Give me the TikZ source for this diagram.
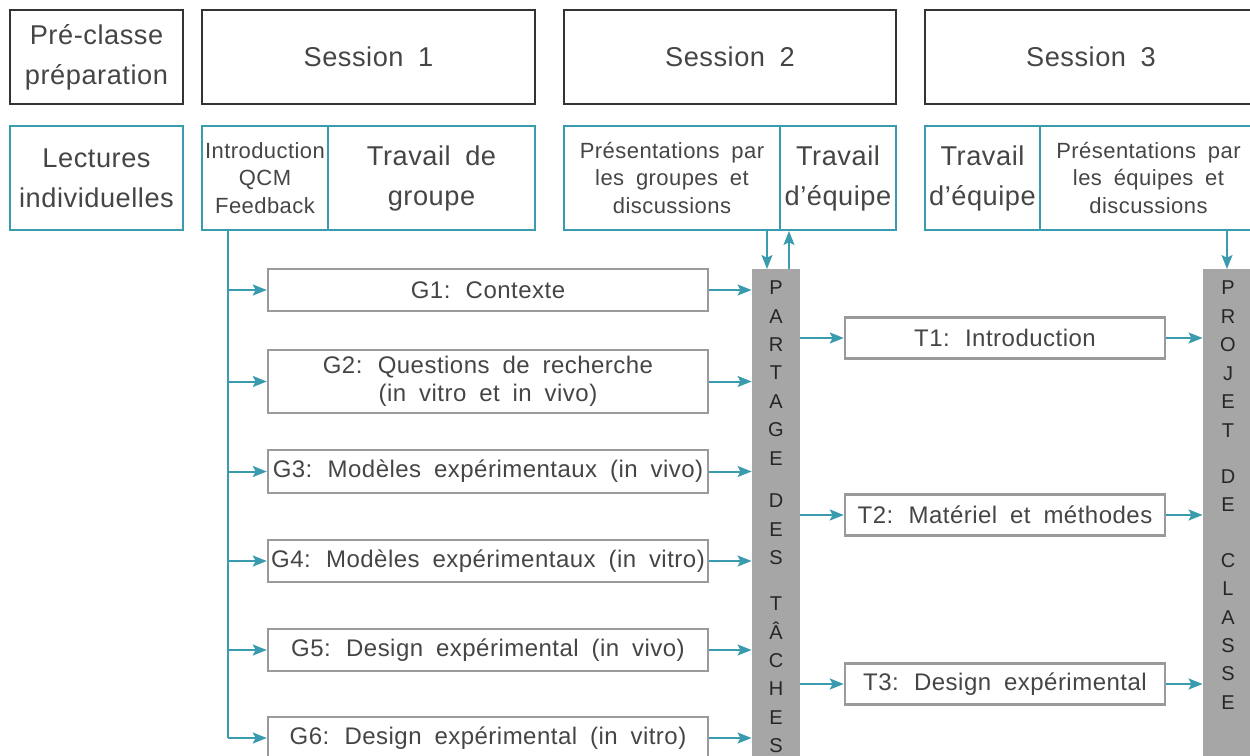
\documentclass[tikz,border=0pt]{standalone}
\usepackage{fontspec}
\setmainfont{Liberation Sans}[WordSpace=1.8,LetterSpace=2]
\newfontfamily\barfont{Liberation Sans}
\usetikzlibrary{arrows.meta}
\definecolor{lineteal}{HTML}{3A9BAF}
\definecolor{topgray}{HTML}{333333}
\definecolor{boxgray}{HTML}{9A9A9A}
\definecolor{bargray}{HTML}{A6A6A6}
\definecolor{txtgray}{HTML}{454545}
\newcommand\fbig{\fontsize{13.6}{20}\selectfont}
\newcommand\fmid{\fontsize{12}{14}\selectfont}
\newcommand\fsmall{\fontsize{11}{13.7}\selectfont}
\newcommand\fbar{\barfont\fontsize{10}{11}\selectfont}
\begin{document}
\begin{tikzpicture}[x=0.5pt,y=-0.5pt,
  topbox/.style={draw=topgray,line width=1.2pt,rectangle,inner sep=0pt,align=center,font=\fbig,text=txtgray},
  tealbox/.style={draw=lineteal,line width=1pt,rectangle,inner sep=0pt,align=center,font=\fbig,text=txtgray,minimum height=52pt},
  gbox/.style={draw=boxgray,line width=1.2pt,rectangle,inner sep=0pt,align=center,font=\fmid,text=txtgray},
  bar/.style={fill=bargray,draw=none,rectangle,inner sep=0pt},
  barletter/.style={font=\fbar,text=black!85,inner sep=0pt,text height=7.2pt,text depth=0pt},
  conn/.style={draw=lineteal,line width=1pt},
  arr/.style={conn,-{Stealth[length=7pt,width=5.5pt,inset=1.4pt]}}]
\useasboundingbox (0,0) rectangle (1250,756);
\clip (0,0) rectangle (1250,756);

% top row
\node[topbox,minimum width=86.5pt,minimum height=47pt] (pre) at (96.5,57) {Pré-classe\\préparation};
\node[topbox,minimum width=166.5pt,minimum height=47pt] (s1) at (368.5,57) {Session 1};
\node[topbox,minimum width=166pt,minimum height=47pt] (s2) at (730,57) {Session 2};
\node[topbox,minimum width=166pt,minimum height=47pt] (s3) at (1091,57) {Session 3};

% second row
\node[tealbox,minimum width=86.5pt] (lect) at (96.5,178) {Lectures\\individuelles};
\node[tealbox,minimum width=63pt,font=\fsmall] (intro) at (265,178) {Introduction\\QCM\\Feedback};
\node[tealbox,minimum width=103.5pt] (tdg) at (431.5,178) {Travail de\\groupe};
\node[tealbox,minimum width=108pt,font=\fsmall] (pres2) at (672,178) {Présentations par\\les groupes et\\discussions};
\node[tealbox,minimum width=58pt] (te2) at (838,178) {Travail\\d’équipe};
\node[tealbox,minimum width=57.5pt] (te3) at (982.5,178) {Travail\\d’équipe};
\node[tealbox,minimum width=108.5pt,font=\fsmall] (pres3) at (1148.5,178) {Présentations par\\les équipes et\\discussions};

% group boxes
\node[gbox,minimum width=220pt,minimum height=21pt] (g1) at (488,290) {G1: Contexte};
\node[gbox,minimum width=220pt,minimum height=31.5pt] (g2) at (488,381.5) {G2: Questions de recherche\\(in vitro et in vivo)};
\node[gbox,minimum width=220pt,minimum height=21.5pt] (g3) at (488,471.5) {G3: Modèles expérimentaux (in vivo)};
\node[gbox,minimum width=220pt,minimum height=21pt] (g4) at (488,561) {G4: Modèles expérimentaux (in vitro)};
\node[gbox,minimum width=220pt,minimum height=21pt] (g5) at (488,650) {G5: Design expérimental (in vivo)};
\node[gbox,minimum width=220pt,minimum height=21pt] (g6) at (488,738) {G6: Design expérimental (in vitro)};

% team boxes
\node[gbox,minimum width=160pt,minimum height=20.5pt] (t1) at (1005,338) {T1: Introduction};
\node[gbox,minimum width=160pt,minimum height=20.5pt] (t2) at (1005,515) {T2: Matériel et méthodes};
\node[gbox,minimum width=160pt,minimum height=20.5pt] (t3) at (1005,684) {T3: Design expérimental};

% bars
\node[bar,minimum width=24pt,minimum height=260pt,anchor=north] (lbar) at (776,269) {};
\node[bar,minimum width=24pt,minimum height=260pt,anchor=north] (rbar) at (1227,269) {};
\foreach \l/\y [count=\i] in {P/287,A/316,R/344,T/372,A/401,G/429,E/458,D/500,E/529,S/557,T/603,Â/632,C/660,H/688,E/717,S/745}
  \node[barletter] (pl\i) at (776,\y) {\l};
\foreach \l/\y [count=\i] in {P/287,R/316,O/344,J/373,E/401,T/430,D/476,E/504,C/560,L/588,A/617,S/645,S/673,E/702}
  \node[barletter] (pr\i) at (1228,\y) {\l};

% connectors
\coordinate (trunk) at ([xshift=13.5pt]intro.south west);
\draw[conn] (trunk) -- (trunk |- g6.west);
\foreach \g in {g1,g2,g3,g4,g5,g6} {
  \draw[arr] (trunk |- \g.west) -- (\g.west);
  \draw[arr] (\g.east) -- (\g.east -| lbar.west);
}
\coordinate (dn) at ([xshift=-4.5pt]lbar.north);
\coordinate (up) at ([xshift=6.5pt]lbar.north);
\draw[arr] (dn |- pres2.south) -- (dn);
\draw[arr] (up) -- (up |- te2.south);
\draw[arr] (rbar.north |- pres3.south) -- (rbar.north);
\foreach \t in {t1,t2,t3} {
  \draw[arr] (lbar.east |- \t.west) -- (\t.west);
  \draw[arr] (\t.east) -- (\t.east -| rbar.west);
}
\end{tikzpicture}
\end{document}
